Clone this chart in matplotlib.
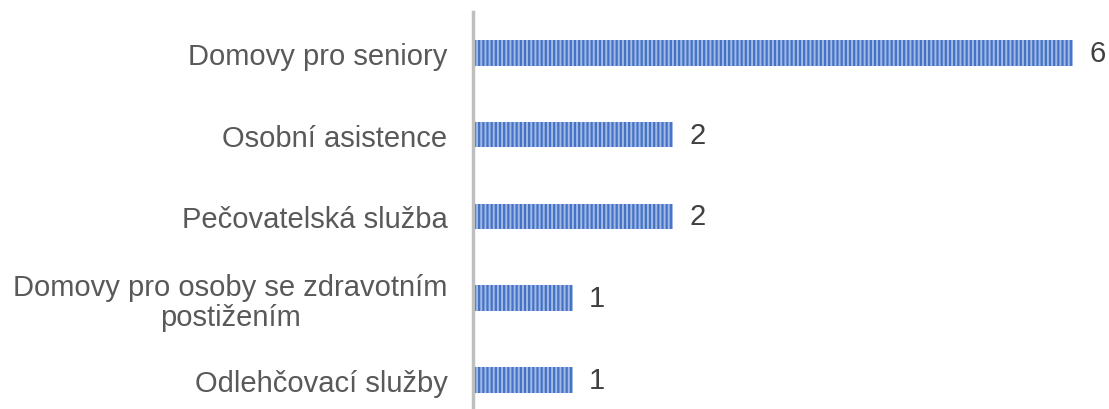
import matplotlib.pyplot as plt

plt.rcParams['font.family'] = ['Liberation Sans', 'DejaVu Sans']
plt.rcParams['hatch.linewidth'] = 1.4

categories = ['Domovy pro seniory', 'Osobní asistence', 'Pečovatelská služba',
              'Domovy pro osoby se zdravotním\npostižením', 'Odlehčovací služby']
values = [6, 2, 2, 1, 1]

fig = plt.figure(figsize=(11.09, 4.10), dpi=100)
ax = fig.add_axes([472.5 / 1109, -0.0287, 1 - 472.5 / 1109, 0.997])

y = list(range(len(categories)))
bars = ax.barh(y, values, height=0.31, color='#4472C4', linewidth=0)
ax.barh(y, values, height=0.31, facecolor='none', edgecolor='#A3BAE6',
        hatch='||||', linewidth=0)

ax.set_yticks(y)
ax.set_yticklabels(categories, fontsize=21, color='#595959', multialignment='center',
                   linespacing=1.1)
ax.tick_params(axis='y', length=0, pad=18)
ax.set_xticks([])
ax.set_xlim(0, (1109 - 472.5) / 100.0)
ax.set_ylim(4.5, -0.5)

for s in ['top', 'right', 'bottom']:
    ax.spines[s].set_visible(False)
ax.spines['left'].set_color('#BFBFBF')
ax.spines['left'].set_linewidth(2.5)

ax.bar_label(bars, labels=[str(v) for v in values], padding=12,
             fontsize=21, color='#404040')

fig.savefig('out.png', dpi=100)
